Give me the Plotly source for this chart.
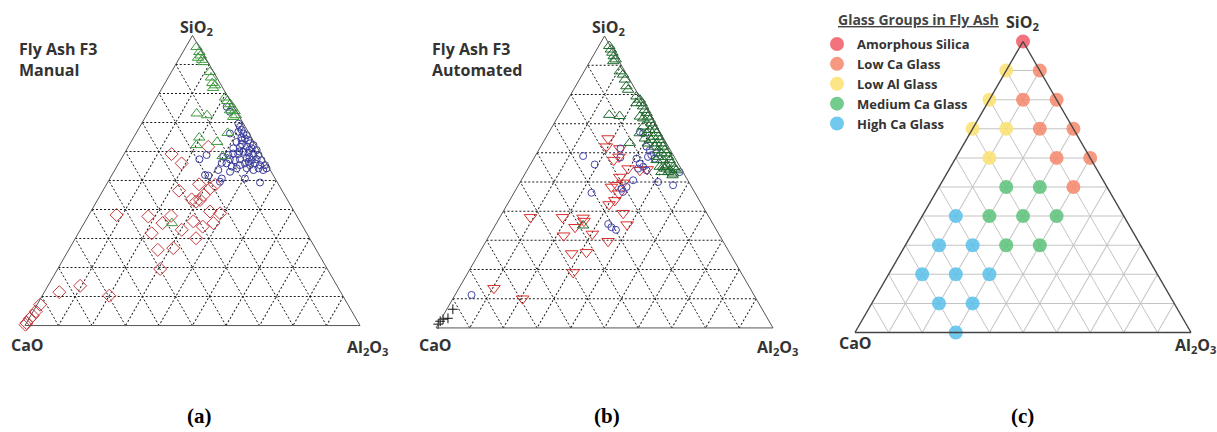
import plotly.graph_objects as go

# ---------------- Panel (a): Fly Ash F3, Manual ----------------
# (SiO2, CaO, Al2O3) in %
A_GREEN_SIO2 = [96.0, 94.3, 93.1, 91.6, 92.3, 90.8, 87.4, 85.5, 83.6, 81.9, 82.8, 78.6, 77.4, 76.3,
                75.1, 73.9, 72.5, 71.9, 74.2, 73.1, 72.5, 66.4, 64.8, 62.2, 63.3, 58.4, 35.3]
A_GREEN_CAO = [0.8, 0.8, 1.0, 1.3, 2.2, 1.2, 1.1, 1.7, 2.3, 2.9, 1.9, 1.0, 0.9, 0.6,
               0.6, 0.5, 0.8, 1.9, 1.7, 12.2, 9.4, 6.3, 15.6, 17.7, 11.0, 11.8, 38.5]
A_GREEN_AL2O3 = [3.2, 4.9, 5.9, 7.1, 5.5, 8.0, 11.5, 12.8, 14.1, 15.2, 15.3, 20.4, 21.7, 23.1,
                 24.3, 25.6, 26.7, 26.2, 24.1, 14.7, 18.1, 27.3, 19.6, 20.1, 25.7, 29.8, 26.2]

A_BLUE_SIO2 = [68.5, 67.4, 66.8, 66.2, 65.6, 64.5, 63.9, 63.9, 63.3, 62.8, 62.2, 61.6, 61.6, 61.1,
               61.1, 60.5, 59.9, 59.6, 59.3, 58.8, 59.3, 59.1, 58.8, 58.2, 57.3, 57.0, 57.3, 57.6,
               57.0, 57.3, 57.0, 55.9, 55.3, 55.3, 55.3, 55.9, 55.3, 54.2, 53.6, 54.2, 53.6, 55.9,
               56.1, 54.8, 54.2, 54.2, 53.6, 53.0, 75.4, 73.7, 69.6, 66.2, 58.8, 57.3, 51.7, 51.9,
               49.6, 50.7, 49.3, 50.7, 62.5, 60.0, 58.0, 56.5, 64.8, 60.5]
A_BLUE_CAO = [1.6, 1.6, 2.9, 1.7, 1.0, 2.1, 1.4, 3.4, 5.2, 1.4, 0.7, 3.0, 5.0, 7.3,
              1.8, 0.6, 4.9, 3.5, 2.2, 0.9, 8.2, 6.8, 9.9, 11.7, 10.2, 8.8, 7.2, 5.0,
              3.8, 2.2, 0.9, 3.4, 2.2, 0.7, 5.2, 6.4, 8.2, 0.8, 2.1, 3.2, 5.0, 11.9,
              13.2, 10.9, 9.7, 6.7, 15.5, 12.3, 2.1, 2.0, 1.5, 5.7, 16.4, 19.3, 19.4, 20.3,
              17.0, 9.0, 5.2, 15.9, 4.0, 6.0, 4.0, 5.0, 3.0, 2.8]
A_BLUE_AL2O3 = [29.9, 31.0, 30.3, 32.1, 33.4, 33.4, 34.7, 32.7, 31.5, 35.8, 37.1, 35.4, 33.4, 31.6,
                37.1, 38.9, 35.2, 36.9, 38.5, 40.3, 32.5, 34.1, 31.3, 30.1, 32.5, 34.2, 35.5, 37.4,
                39.2, 40.5, 42.1, 40.7, 42.5, 44.0, 39.5, 37.7, 36.5, 45.0, 44.3, 42.6, 41.4, 32.2,
                30.7, 34.3, 36.1, 39.1, 30.9, 34.7, 22.5, 24.3, 28.9, 28.1, 24.8, 23.4, 28.9, 27.8,
                33.4, 40.3, 45.5, 33.4, 33.5, 34.0, 38.0, 38.5, 32.2, 36.7]

A_RED_SIO2 = [61.6, 59.1, 55.9, 48.7, 47.3, 48.5, 46.5, 45.0, 43.3, 42.7, 43.5, 39.3, 38.7, 35.3,
              38.1, 37.6, 37.8, 35.3, 31.8, 33.0, 35.9, 34.1, 30.1, 26.1, 26.7, 19.5, 13.7, 11.5,
              10.3, 7.2, 4.9, 3.4, 2.3, 0.9, 0.3]
A_RED_CAO = [14.5, 26.7, 25.3, 23.7, 21.1, 19.0, 30.8, 24.1, 26.1, 27.6, 28.5, 25.1, 22.4, 26.1,
             53.6, 44.4, 37.5, 41.3, 46.3, 36.7, 31.8, 29.9, 33.9, 47.3, 42.4, 49.9, 76.7, 84.0,
             69.7, 91.9, 94.3, 96.0, 97.5, 99.1, 99.7]
A_RED_AL2O3 = [23.9, 14.2, 18.8, 27.6, 31.6, 32.5, 22.7, 30.9, 30.6, 29.7, 28.0, 35.6, 38.9, 38.6,
               8.3, 18.0, 24.7, 23.4, 21.9, 30.3, 32.3, 36.0, 36.0, 26.6, 30.9, 30.6, 9.6, 4.5,
               20.0, 0.9, 0.8, 0.6, 0.2, 0.0, 0.0]

# ---------------- Panel (b): Fly Ash F3, Automated ----------------
B_GREEN_SIO2 = [96.6, 95.4, 94.3, 93.1, 92.0, 91.4, 87.9, 86.8, 85.1, 82.8, 81.6, 79.3, 78.2, 77.0,
                75.9, 74.7, 73.6, 72.4, 71.3, 70.1, 69.0, 67.8, 66.7, 65.5, 64.4, 63.2, 62.1, 60.9,
                59.8, 58.6, 57.5, 56.3, 55.2, 54.6, 54.0, 67.8, 65.5, 63.2, 60.9, 59.8, 57.5, 55.7,
                55.2, 54.6, 54.0, 52.9, 62.1, 64.4, 66.7, 63.2, 64.9, 69.0, 72.4, 77.0, 71.8, 58.6,
                53.4, 53.4, 55.2, 57.5, 73.0, 72.6, 63.4, 66.7, 35.1, 52.3]
B_GREEN_CAO = [0.3, 0.4, 0.5, 0.7, 0.7, 1.7, 1.5, 1.1, 1.4, 2.1, 2.2, 0.9, 0.4, 0.5,
               0.6, 0.7, 0.7, 0.9, 0.9, 1.0, 1.1, 1.2, 1.2, 1.3, 1.4, 1.5, 1.6, 1.7,
               1.7, 1.8, 1.9, 2.0, 2.0, 1.9, 1.7, 2.7, 2.8, 3.0, 3.6, 3.2, 3.8, 3.8,
               6.0, 4.8, 3.6, 3.2, 4.0, 3.9, 4.2, 5.5, 5.6, 4.0, 3.3, 2.0, 2.6, 4.8,
               4.4, 6.4, 5.0, 5.8, 12.1, 9.2, 10.8, 6.2, 38.8, 3.7]
B_GREEN_AL2O3 = [3.1, 4.2, 5.2, 6.2, 7.3, 6.9, 10.6, 12.1, 13.5, 15.1, 16.2, 19.8, 21.4, 22.5,
                 23.5, 24.6, 25.7, 26.7, 27.8, 28.9, 29.9, 31.0, 32.1, 33.2, 34.2, 35.3, 36.3, 37.4,
                 38.5, 39.6, 40.6, 41.7, 42.8, 43.5, 44.3, 29.5, 31.7, 33.8, 35.5, 37.0, 38.7, 40.5,
                 38.8, 40.6, 42.4, 43.9, 33.9, 31.7, 29.1, 31.3, 29.5, 27.0, 24.3, 21.0, 25.6, 36.6,
                 42.2, 40.2, 39.8, 36.7, 14.9, 18.2, 25.8, 27.1, 26.1, 44.0]

B_BLUE_SIO2 = [58.9, 56.0, 46.3, 61.5, 58.4, 58.0, 56.3, 55.2, 54.6, 58.6, 59.2, 59.8, 62.1, 60.9,
               58.0, 50.6, 48.3, 46.6, 47.7, 50.0, 48.9, 53.4, 35.6, 34.5, 33.6, 11.3, 66.7, 67.2, 54.0]
B_BLUE_CAO = [26.9, 24.9, 30.7, 14.5, 16.1, 11.5, 11.4, 10.9, 12.7, 7.8, 6.5, 4.7, 6.5, 6.1,
              6.1, 16.2, 19.3, 21.2, 21.1, 9.1, 5.2, 1.0, 31.1, 30.7, 29.8, 83.8, 5.2, 5.9, 10.5]
B_BLUE_AL2O3 = [14.2, 19.1, 23.0, 24.0, 25.5, 30.5, 32.3, 33.9, 32.7, 33.6, 34.3, 35.5, 31.4, 33.0,
                35.9, 33.2, 32.4, 32.2, 31.2, 40.9, 45.9, 45.6, 33.3, 34.8, 36.6, 4.9, 28.1, 26.9, 35.5]

B_RED_SIO2 = [64.9, 62.1, 61.5, 57.5, 58.6, 54.6, 54.0, 54.3, 51.7, 48.3, 48.9, 49.7, 46.0, 43.7,
              42.3, 39.3, 35.4, 37.9, 37.9, 37.7, 36.6, 34.5, 31.6, 32.2, 29.7, 25.9, 25.5, 19.0,
              13.6, 10.0]
B_RED_CAO = [16.5, 18.4, 14.7, 18.5, 16.4, 15.7, 12.5, 10.2, 19.6, 23.8, 22.0, 19.6, 22.7, 25.1,
             27.5, 24.8, 25.6, 53.0, 43.5, 37.5, 37.8, 41.5, 46.3, 37.5, 34.1, 42.4, 47.0, 49.8,
             76.0, 69.3]
B_RED_AL2O3 = [18.6, 19.5, 23.8, 24.0, 25.0, 29.7, 33.5, 35.5, 28.7, 27.9, 29.1, 30.7, 31.3, 31.2,
               30.2, 35.9, 39.0, 9.1, 18.6, 24.8, 25.6, 24.0, 22.1, 30.3, 36.2, 31.7, 27.5, 31.2,
               10.4, 20.7]

B_BLACK_SIO2 = [1.3, 2.3, 3.0, 3.3, 6.4]
B_BLACK_CAO = [98.7, 97.6, 96.4, 94.8, 91.8]
B_BLACK_AL2O3 = [0.0, 0.1, 0.6, 1.9, 1.8]

# ---------------- Panel (c): glass groups ----------------
GROUP_NAMES = ["Amorphous Silica", "Low Ca Glass", "Low Al Glass", "Medium Ca Glass", "High Ca Glass"]
GROUP_COLORS = ["#f05a66", "#f4876a", "#fbe070", "#5cc27a", "#58bfea"]
GROUP_SIO2 = [
    [100],
    [90, 80, 80, 70, 70, 60, 60, 50],
    [90, 80, 70, 70, 60],
    [50, 50, 40, 40, 40, 30, 30],
    [40, 30, 30, 20, 20, 20, 10, 10, 0],
]
GROUP_CAO = [
    [0],
    [0, 10, 0, 10, 0, 10, 0, 10],
    [10, 20, 30, 20, 30],
    [30, 20, 40, 30, 20, 40, 30],
    [50, 60, 50, 70, 60, 50, 70, 60, 70],
]
GROUP_AL2O3 = [
    [0],
    [10, 10, 20, 20, 30, 30, 40, 40],
    [0, 0, 0, 10, 10],
    [20, 30, 20, 30, 40, 30, 40],
    [10, 10, 20, 10, 20, 30, 20, 30, 30],
]

W, H = 1217, 432
fig = go.Figure()


def add_open(subplot, a, b, c, symbol, color, size):
    fig.add_trace(go.Scatterternary(
        a=a, b=b, c=c, mode="markers", subplot=subplot, showlegend=False, cliponaxis=False,
        marker=dict(symbol=symbol, color=color, size=size, line=dict(width=1, color=color)),
        hoverinfo="skip"))


add_open("ternary", A_RED_SIO2, A_RED_CAO, A_RED_AL2O3, "diamond-open", "#c8383c", 10)
add_open("ternary", A_BLUE_SIO2, A_BLUE_CAO, A_BLUE_AL2O3, "circle-open", "#3a3c9c", 7)
add_open("ternary", A_GREEN_SIO2, A_GREEN_CAO, A_GREEN_AL2O3, "triangle-up-open", "#3f9c3f", 10)

add_open("ternary2", B_RED_SIO2, B_RED_CAO, B_RED_AL2O3, "triangle-down-open", "#d8302e", 11)
add_open("ternary2", B_BLUE_SIO2, B_BLUE_CAO, B_BLUE_AL2O3, "circle-open", "#4646aa", 7)
add_open("ternary2", B_GREEN_SIO2, B_GREEN_CAO, B_GREEN_AL2O3, "triangle-up-open", "#1e6a2c", 10)
add_open("ternary2", B_BLACK_SIO2, B_BLACK_CAO, B_BLACK_AL2O3, "cross-thin-open", "#111111", 7)

for name, color, a, b, c in zip(GROUP_NAMES, GROUP_COLORS, GROUP_SIO2, GROUP_CAO, GROUP_AL2O3):
    fig.add_trace(go.Scatterternary(
        a=a, b=b, c=c, mode="markers", subplot="ternary3", name=name, cliponaxis=False,
        marker=dict(symbol="circle", color=color, size=14, opacity=0.85, line=dict(width=0)),
        hoverinfo="skip"))


def axis(dashed):
    return dict(
        showticklabels=False, ticks="", showgrid=True,
        gridcolor="#1a1a1a" if dashed else "#c4c4c4",
        gridwidth=0.8 if dashed else 1,
        griddash="2px,2px" if dashed else "solid",
        tick0=0, dtick=10, min=0,
        showline=True, linecolor="#555555" if dashed else "#444444",
        linewidth=1 if dashed else 1.4,
        title=dict(text=""),
    )


def tern(x0, x1, y0, y1, dashed):
    return dict(
        domain=dict(x=[x0 / W, x1 / W], y=[1 - y1 / H, 1 - y0 / H]),
        sum=100, bgcolor="white",
        aaxis=axis(dashed), baxis=axis(dashed), caxis=axis(dashed),
    )


LABEL_FONT = dict(family="Open Sans", size=16, color="#333333", weight="bold")
annotations = []


def label(text, px, py, xanchor="center", yanchor="middle", font=LABEL_FONT, align="center"):
    annotations.append(dict(text=text, x=px / W, y=1 - py / H, xref="paper", yref="paper",
                            xanchor=xanchor, yanchor=yanchor, showarrow=False, font=font,
                            align=align))


# corner labels
for sx, cx, ax_, sy, cy in [(196, 27, 367, 28, 345), (608, 435, 777, 28, 345), (1022, 855, 1195, 22, 343)]:
    label("SiO<sub>2</sub>", sx, sy)
    label("CaO", cx, cy)
    label("Al<sub>2</sub>O<sub>3</sub>", ax_, cy + 2)

label("Fly Ash F3<br>Manual", 17, 36, xanchor="left", yanchor="top", align="left")
label("Fly Ash F3<br>Automated", 430, 36, xanchor="left", yanchor="top", align="left")

# legend heading
label("<u>Glass Groups in Fly Ash</u>", 836, 20, xanchor="left",
      font=dict(family="Open Sans", size=14, color="#444444", weight="bold"))

PANEL_FONT = dict(family="Liberation Serif", size=21, color="black", weight="bold")
label("(a)", 199, 416, font=PANEL_FONT)
label("(b)", 607, 416, font=PANEL_FONT)
label("(c)", 1022, 416, font=PANEL_FONT)

fig.update_layout(
    width=W, height=H,
    margin=dict(l=0, r=0, t=0, b=0),
    paper_bgcolor="white",
    ternary=tern(25, 360, 31, 330, True),
    ternary2=tern(436, 773, 32, 332, True),
    ternary3=tern(855, 1191, 37, 337, False),
    annotations=annotations,
    showlegend=True,
    legend=dict(
        x=817 / W, y=1 - 29 / H, xanchor="left", yanchor="top",
        bgcolor="rgba(0,0,0,0)",
        font=dict(family="Open Sans", size=13, color="#333333", weight="bold"),
        tracegroupgap=0, itemsizing="trace",
    ),
)

fig.write_html("out.html")
